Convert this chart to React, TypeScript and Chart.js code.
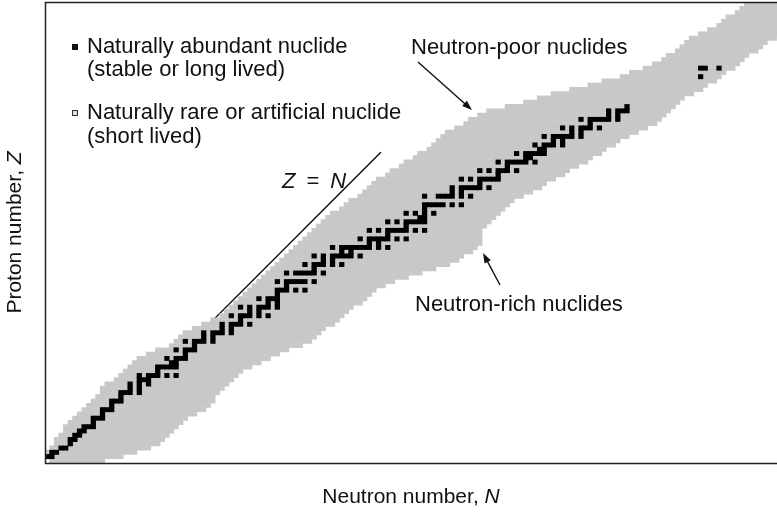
import React, { useEffect, useRef } from 'react';
import { Chart, registerables } from 'chart.js';

Chart.register(...registerables);

// Proton number Z for every row of the chart
const protonNumbers = [
  0, 1, 2, 3, 4, 5, 6, 7, 8, 9, 10, 11, 12, 13, 14, 15, 16, 17, 18, 19, 20,
  21, 22, 23, 24, 25, 26, 27, 28, 29, 30, 31, 32, 33, 34, 35, 36, 37, 38, 39, 40,
  41, 42, 43, 44, 45, 46, 47, 48, 49, 50, 51, 52, 53, 54, 55, 56, 57, 58, 59, 60,
  61, 62, 63, 64, 65, 66, 67, 68, 69, 70, 71, 72, 73, 74, 75, 76, 77, 78, 79, 80,
  81, 82, 83, 84, 85, 86, 87, 88, 89, 90, 91, 92, 93, 94, 95, 96, 97, 98, 99, 100,
  101, 102, 103, 104, 105, 106, 107,
];

// Smallest neutron number of a known nuclide, for each Z
const bandMinN = [
  1, 0, 0, 1, 2, 2, 3, 4, 4, 5, 6, 7, 8, 9, 10, 11, 12, 12, 13, 15, 16,
  17, 18, 19, 20, 22, 24, 27, 28, 29, 30, 32, 34, 36, 38, 39, 40, 41, 42, 43, 44,
  45, 46, 47, 48, 49, 50, 51, 52, 53, 54, 55, 56, 57, 58, 59, 60, 61, 62, 64, 65,
  66, 68, 69, 70, 71, 72, 74, 75, 77, 78, 80, 81, 83, 84, 85, 86, 87, 89, 91, 92,
  94, 96, 100, 104, 107, 110, 114, 118, 121, 125, 127, 130, 132, 134, 135, 137, 138, 139, 140, 142,
  144, 146, 147, 148, 150, 151, 152,
];

// Largest neutron number of a known nuclide, for each Z
const bandMaxN = [
  12, 16, 19, 22, 24, 25, 26, 27, 28, 29, 30, 32, 34, 35, 36, 36, 37, 38, 39, 40, 41,
  42, 44, 46, 48, 50, 52, 55, 57, 58, 59, 60, 62, 63, 64, 65, 66, 68, 69, 70, 71,
  73, 75, 78, 81, 84, 87, 89, 90, 92, 93, 94, 94, 94, 94, 95, 96, 97, 98, 99, 100,
  101, 103, 105, 107, 108, 110, 112, 113, 115, 117, 118, 120, 121, 123, 124, 126, 128, 130, 132, 133,
  134, 135, 136, 137, 138, 140, 142, 143, 145, 146, 147, 149, 150, 151, 152, 154, 155, 156, 158, 159,
  160, 160, 160, 160, 160, 161, 161,
];

// Naturally abundant (stable or long-lived) nuclides: neutron numbers, indexed by Z
const stableNByZ: number[][] = [
  [], [0, 1], [1, 2], [3, 4], [5], [5, 6], [6, 7], [7, 8], [8, 9, 10], [10],
  [10, 11, 12], [12], [12, 13, 14], [14], [14, 15, 16], [16], [16, 17, 18, 20], [18, 20], [18, 20, 22], [20, 21, 22],
  [20, 22, 23, 24, 26, 28], [24], [24, 25, 26, 27, 28], [27, 28], [26, 28, 29, 30], [30], [28, 30, 31, 32], [32], [30, 32, 33, 34, 36], [34, 36],
  [34, 36, 37, 38, 40], [38, 40], [38, 40, 41, 42, 44], [42], [40, 42, 43, 44, 46, 48], [44, 46], [42, 44, 46, 47, 48, 50], [48, 50], [46, 48, 49, 50], [50],
  [50, 51, 52, 54, 56], [52], [50, 52, 53, 54, 55, 56, 58], [], [52, 54, 55, 56, 57, 58, 60], [58], [56, 58, 59, 60, 62, 64], [60, 62], [58, 60, 62, 63, 64, 65, 66, 68], [64, 66],
  [62, 64, 65, 66, 67, 68, 69, 70, 72, 74], [70, 72], [68, 70, 71, 72, 73, 74, 76, 78], [74], [70, 72, 74, 75, 76, 77, 78, 80, 82], [78], [74, 76, 78, 79, 80, 81, 82], [81, 82], [78, 80, 82, 84], [82],
  [82, 83, 84, 85, 86, 88, 90], [], [82, 85, 86, 87, 88, 90, 92], [88, 90], [88, 90, 91, 92, 93, 94, 96], [94], [90, 92, 94, 95, 96, 97, 98], [98], [94, 96, 98, 99, 100, 102], [100],
  [98, 100, 101, 102, 103, 104, 106], [104, 105], [102, 104, 105, 106, 107, 108], [107, 108], [106, 108, 109, 110, 112], [110, 112], [108, 110, 111, 112, 113, 114, 116], [114, 116], [112, 114, 116, 117, 118, 120], [118],
  [116, 118, 119, 120, 121, 122, 124], [122, 124], [122, 124, 125, 126], [126], [], [], [], [], [], [],
  [142], [], [142, 143, 146],
];

// The "Z = N" guide line, as drawn: neutron and proton numbers of its two ends
const guideLineN = [20, 72.5];
const guideLineZ = [15.7, 72.3];

const FONT = '"Liberation Sans", Arial, Helvetica, sans-serif';

type Part = { t: string; i?: boolean };

function drawParts(ctx: CanvasRenderingContext2D, parts: Part[], x: number, y: number, align: 'left' | 'center', size: number) {
  const widths = parts.map((p) => {
    ctx.font = `${p.i ? 'italic ' : ''}${size}px ${FONT}`;
    return ctx.measureText(p.t).width;
  });
  const total = widths.reduce((a, b) => a + b, 0);
  let cx = align === 'center' ? x - total / 2 : x;
  ctx.textAlign = 'left';
  ctx.textBaseline = 'middle';
  parts.forEach((p, k) => {
    ctx.font = `${p.i ? 'italic ' : ''}${size}px ${FONT}`;
    ctx.fillText(p.t, cx, y);
    cx += widths[k];
  });
}

function drawArrow(ctx: CanvasRenderingContext2D, x1: number, y1: number, x2: number, y2: number) {
  const ang = Math.atan2(y2 - y1, x2 - x1);
  const head = 10;
  const hw = 3.5;
  ctx.beginPath();
  ctx.moveTo(x1, y1);
  ctx.lineTo(x2 - Math.cos(ang) * head * 0.8, y2 - Math.sin(ang) * head * 0.8);
  ctx.lineWidth = 1.4;
  ctx.strokeStyle = '#111';
  ctx.stroke();
  ctx.beginPath();
  ctx.moveTo(x2, y2);
  ctx.lineTo(x2 - Math.cos(ang) * head - Math.sin(ang) * hw, y2 - Math.sin(ang) * head + Math.cos(ang) * hw);
  ctx.lineTo(x2 - Math.cos(ang) * head + Math.sin(ang) * hw, y2 - Math.sin(ang) * head - Math.cos(ang) * hw);
  ctx.closePath();
  ctx.fillStyle = '#111';
  ctx.fill();
}

const decorPlugin = {
  id: 'decor',
  afterDraw(chart: Chart) {
    const ctx = chart.ctx;
    const a = chart.chartArea;
    ctx.save();
    // frame
    ctx.strokeStyle = '#222';
    ctx.lineWidth = 1.5;
    ctx.beginPath();
    ctx.moveTo(chart.width, a.top + 0.5);
    ctx.lineTo(a.left + 0.5, a.top + 0.5);
    ctx.lineTo(a.left + 0.5, a.bottom + 0.5);
    ctx.lineTo(chart.width, a.bottom + 0.5);
    ctx.stroke();

    ctx.fillStyle = '#111';
    // legend
    ctx.fillRect(72, 44, 6, 6);
    drawParts(ctx, [{ t: 'Naturally abundant nuclide' }], 87, 47, 'left', 22);
    drawParts(ctx, [{ t: '(stable or long lived)' }], 87, 70, 'left', 22);
    ctx.fillStyle = '#ddd';
    ctx.fillRect(72, 110, 6, 6);
    ctx.strokeStyle = '#333';
    ctx.lineWidth = 1;
    ctx.strokeRect(72.5, 110.5, 5, 5);
    ctx.fillStyle = '#111';
    drawParts(ctx, [{ t: 'Naturally rare or artificial nuclide' }], 87, 113, 'left', 22);
    drawParts(ctx, [{ t: '(short lived)' }], 87, 137, 'left', 22);

    // annotations
    drawParts(ctx, [{ t: 'Z', i: true }, { t: '\u2002=\u2002' }, { t: 'N', i: true }], 282, 182, 'left', 22);
    drawParts(ctx, [{ t: 'Neutron-poor nuclides' }], 411, 48, 'left', 22);
    drawArrow(ctx, 418, 62, 472, 110);
    drawParts(ctx, [{ t: 'Neutron-rich nuclides' }], 415, 305, 'left', 22);
    drawArrow(ctx, 500, 285, 483, 253);

    // axis titles
    drawParts(ctx, [{ t: 'Neutron number, ' }, { t: 'N', i: true }], (a.left + chart.width) / 2, 497, 'center', 21);
    ctx.translate(15, (a.top + a.bottom) / 2);
    ctx.rotate(-Math.PI / 2);
    drawParts(ctx, [{ t: 'Proton number, ' }, { t: 'Z', i: true }], 0, 0, 'center', 21);
    ctx.restore();
  },
};

export default function App() {
  const canvasRef = useRef<HTMLCanvasElement | null>(null);

  useEffect(() => {
    const canvas = canvasRef.current;
    if (!canvas) return;

    const knownCells = protonNumbers.map((z, i) => ({ y: z, x: [bandMinN[i] - 0.5, bandMaxN[i] + 0.5] }));
    const stableCells: { y: number; x: number[] }[] = [];
    stableNByZ.forEach((ns, z) => {
      ns.forEach((n) => stableCells.push({ y: z, x: [n - 0.5, n + 0.5] }));
    });
    const lineData = guideLineN.map((n, i) => ({ x: n, y: guideLineZ[i] }));

    const chart = new Chart(canvas, {
      type: 'bar',
      data: {
        datasets: [
          {
            type: 'bar',
            label: 'Naturally abundant nuclide',
            data: stableCells as any,
            backgroundColor: '#000',
            borderWidth: 0,
            grouped: false,
            barPercentage: 1,
            categoryPercentage: 1,
            order: 0,
          },
          {
            type: 'bar',
            label: 'Naturally rare or artificial nuclide',
            data: knownCells as any,
            backgroundColor: '#c8c8c8',
            borderWidth: 0,
            grouped: false,
            barPercentage: 1,
            categoryPercentage: 1,
            order: 1,
          },
          {
            type: 'line',
            label: 'Z = N',
            data: lineData as any,
            borderColor: '#000',
            borderWidth: 1.3,
            pointRadius: 0,
            order: 2,
          } as any,
        ],
      },
      options: {
        indexAxis: 'y',
        responsive: false,
        animation: false,
        layout: { padding: { left: 45, top: 2, right: 0, bottom: 67 } },
        scales: {
          x: { type: 'linear', min: -0.5, max: 158.6, display: false, offset: false },
          y: { type: 'linear', min: -0.5, max: 107.5, display: false, offset: false },
        },
        plugins: { legend: { display: false }, tooltip: { enabled: false } },
      },
      plugins: [decorPlugin as any],
    });

    return () => chart.destroy();
  }, []);

  return (
    <div style={{ position: 'absolute', left: 0, top: 0, width: 777, height: 530, background: '#fff' }}>
      <canvas ref={canvasRef} width={777} height={530} style={{ display: 'block' }} />
    </div>
  );
}
